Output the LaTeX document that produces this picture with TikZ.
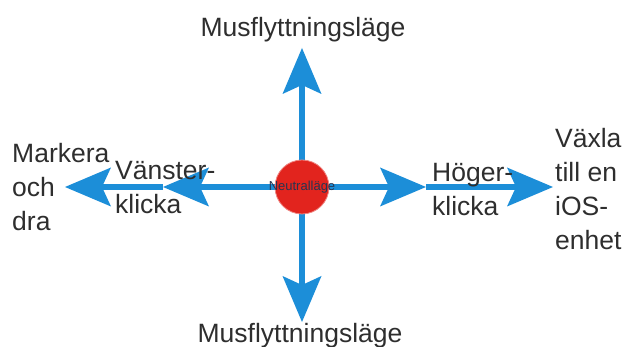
\documentclass[tikz,border=0pt]{standalone}
\usepackage{fontspec}
\setmainfont{Liberation Sans}
\usetikzlibrary{arrows.meta, positioning}
\definecolor{armblue}{RGB}{28,142,216}
\definecolor{hubred}{RGB}{226,36,30}
\definecolor{hubtext}{RGB}{40,52,80}

\begin{document}
\begin{tikzpicture}[
        x=1pt, y=-1pt,
        font=\fontsize{26.5}{34}\selectfont,
        arm/.style={line width=6pt, armblue, -{Stealth[length=46pt, width=39pt, inset=9pt, line width=0pt]}},
        hub/.style={circle, fill=hubred, draw=hubred!55!white, line width=0.8pt, minimum size=54pt, inner sep=0pt},
        hublbl/.style={font=\fontsize{13}{13}\selectfont, text=hubtext, inner sep=0pt},
        lbl/.style={align=left, inner sep=0pt, anchor=north west, text=black!82},
        mode/.style={inner sep=0pt, anchor=base, text=black!82}
    ]
    \useasboundingbox (0,0) rectangle (625,347);

    \coordinate (centre) at (302,187);
    \coordinate (upTip) at (302,48);
    \coordinate (downTip) at (302,322);
    \coordinate (leftMid) at (163,187);
    \coordinate (leftTip) at (65,187);
    \coordinate (rightMid) at (426,187);
    \coordinate (rightTip) at (553,187);

    \draw[arm] (centre) -- (upTip);
    \draw[arm] (centre) -- (downTip);
    \draw[arm] (centre) -- (leftMid);
    \draw[arm] (leftMid) -- (leftTip);
    \draw[arm] (centre) -- (rightMid);
    \draw[arm] (rightMid) -- (rightTip);

    \node[hub, label={[hublbl]center:Neutralläge}] (neutral) at (centre) {};

    \node[mode] (moveUp) at (303,37) {Musflyttningsläge};
    \node[mode] (moveDown) at (300,343) {Musflyttningsläge};
    \node[lbl] (drag) at (12,143) {Markera\\och\\dra};
    \node[lbl] (leftClick) at (115,161) {Vänster-\\klicka};
    \node[lbl] (rightClick) at (432,163) {Höger-\\klicka};
    \node[lbl] (switchIos) at (555,128) {Växla\\till en\\iOS-\\enhet};
\end{tikzpicture}
\end{document}
